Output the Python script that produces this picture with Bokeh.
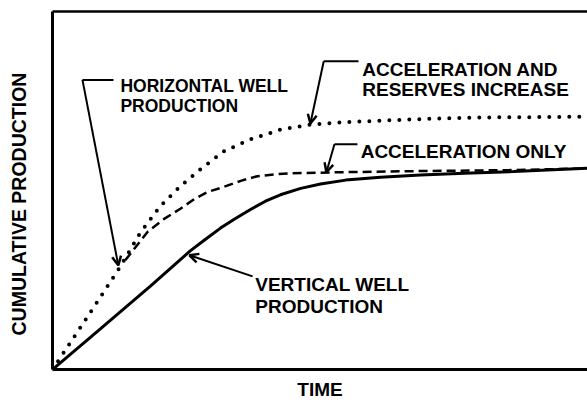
from bokeh.plotting import figure
from bokeh.models import Range1d, Label, Arrow, OpenHead, LinearAxis
from bokeh.embed import file_html
from bokeh.resources import INLINE

# ---- data (axes have no units: 0..100 relative) ----
vert_time = [0, 9.0, 18.3, 25.8, 28.6, 31.4, 34.2, 37.0, 39.8, 42.6, 46.4, 50.1, 54.8, 61.3, 68.8, 77.0, 86.2, 100]
vert_prod = [0, 11.4, 23.3, 33.2, 36.4, 39.5, 42.2, 44.7, 47.0, 48.8, 50.6, 51.8, 52.9, 53.7, 54.3, 54.8, 55.3, 56.2]

horiz_time = [0, 6.4, 12.7, 16.4, 20.2, 23.9, 27.7, 32.0, 37.0, 42.6, 48.2, 54.5, 61.3, 70.0, 80.0, 90.0, 100]
horiz_prod = [0, 14.4, 28.8, 38.2, 45.7, 51.2, 56.0, 60.9, 64.3, 67.0, 68.4, 69.1, 69.5, 70.0, 70.4, 70.5, 70.6]

accel_time = [13.6, 17.8, 20.8, 23.9, 26.5, 29.0, 32.0, 35.2, 38.3, 41.5, 44.5, 53.8, 67.5, 86.2, 100]
accel_prod = [30.5, 38.5, 42.0, 44.9, 47.6, 49.6, 51.0, 52.7, 54.0, 54.5, 54.8, 55.1, 55.4, 55.7, 56.2]

x_title = "TIME"
y_title = "CUMULATIVE PRODUCTION"

FONT = "Liberation Sans"

p = figure(width=587, height=402, output_backend="svg", toolbar_location=None,
           x_range=Range1d(0, 100), y_range=Range1d(0, 100),
           min_border_left=52, min_border_right=0, min_border_top=11, min_border_bottom=30)
p.outline_line_color = None
p.grid.visible = False
p.background_fill_color = "white"
p.border_fill_color = "white"

bottom_axis = p.below[0]
left_axis = p.left[0]
top_axis = LinearAxis()
p.add_layout(top_axis, "above")
for ax in [bottom_axis, left_axis, top_axis]:
    ax.ticker = []
    ax.major_tick_line_color = None
    ax.minor_tick_line_color = None
    ax.major_label_text_font_size = "0px"
    ax.major_label_standoff = 0
    ax.axis_line_color = "black"
    ax.axis_line_width = 3
top_axis.axis_line_width = 2.5

bottom_axis.axis_label = x_title
bottom_axis.axis_label_text_font = FONT
bottom_axis.axis_label_text_font_style = "bold"
bottom_axis.axis_label_text_font_size = "19px"
bottom_axis.axis_label_text_color = "black"
bottom_axis.axis_label_standoff = 9

# trailing no-break spaces shift the centred title down toward the origin, as in the reference
left_axis.axis_label = y_title + "\u00a0" * 5
left_axis.axis_label_text_font = FONT
left_axis.axis_label_text_font_style = "bold"
left_axis.axis_label_text_font_size = "19.5px"
left_axis.axis_label_text_color = "black"
left_axis.axis_label_standoff = 23

# ---- curves ----
p.line(vert_time, vert_prod, line_color="black", line_width=3)
p.line(accel_time, accel_prod, line_color="black", line_width=2.5, line_dash="9 5")
p.line(horiz_time, horiz_prod, line_color="black", line_width=4, line_dash="0 10",
       line_cap="round")

# ---- annotations ----
def label(x, y, text, size="19px"):
    p.add_layout(Label(x=x, y=y, text=text, text_font=FONT, text_font_style="bold",
                       text_font_size=size, text_color="black",
                       text_align="left", text_baseline="alphabetic"))

label(12.7, 79.2, "HORIZONTAL WELL", "17.5px")
label(12.7, 73.5, "PRODUCTION", "17.5px")
label(57.9, 83.7, "ACCELERATION AND")
label(57.9, 78.1, "RESERVES INCREASE")
label(57.6, 61.0, "ACCELERATION ONLY")
label(37.9, 23.8, "VERTICAL WELL")
label(37.9, 17.5, "PRODUCTION")

def leader(pts):
    xs = [q[0] for q in pts]
    ys = [q[1] for q in pts]
    if len(pts) > 2:
        p.line(xs[:-1], ys[:-1], line_color="black", line_width=2)
    p.add_layout(Arrow(end=OpenHead(size=9, line_width=2.5, line_color="black"),
                       x_start=xs[-2], y_start=ys[-2], x_end=xs[-1], y_end=ys[-1],
                       line_color="black", line_width=2))

leader([(11.4, 80.9), (5.6, 80.9), (12.3, 29.1)])
leader([(57.2, 86.1), (50.7, 86.1), (48.2, 68.7)])
leader([(57.0, 62.9), (52.7, 62.9), (51.2, 55.1)])
leader([(37.4, 26.0), (25.6, 31.9)])

open("out.html", "w").write(file_html(p, INLINE))
